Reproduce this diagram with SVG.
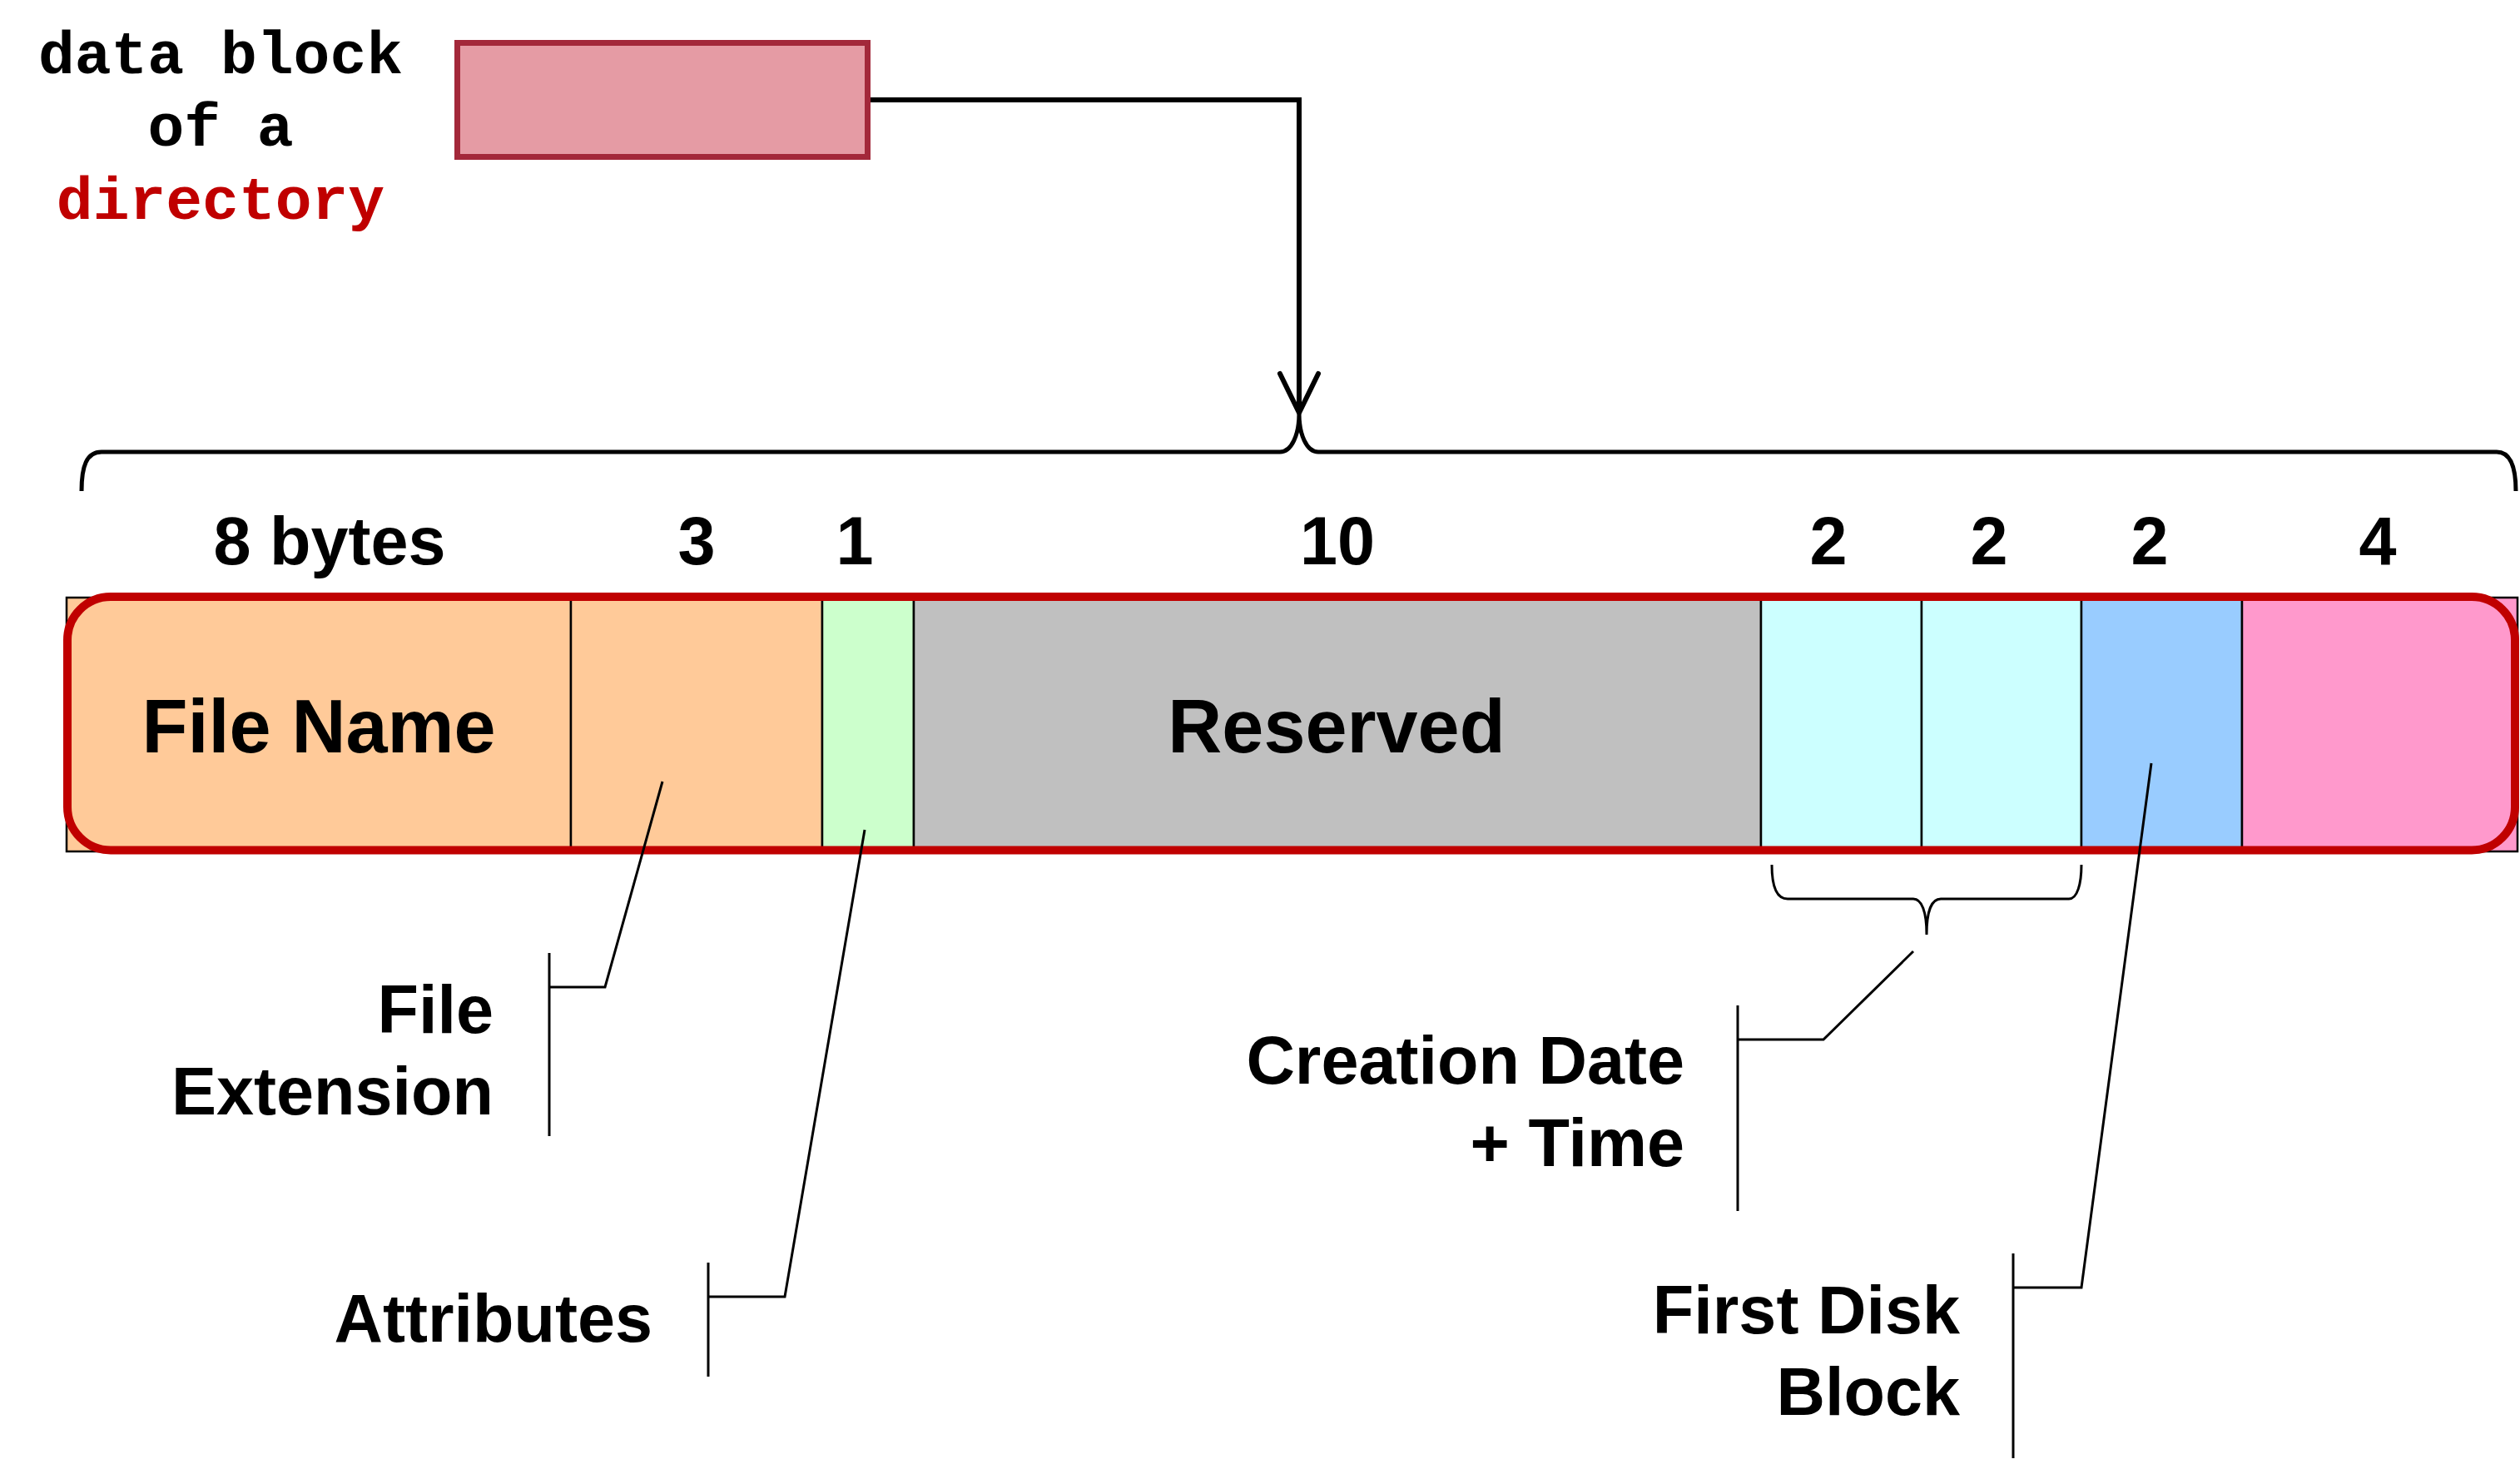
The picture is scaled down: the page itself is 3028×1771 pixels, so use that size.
<svg xmlns="http://www.w3.org/2000/svg" width="3028" height="1771" viewBox="0 0 3028 1771">
<defs>
<style>
.mono{font-family:"Liberation Mono","Courier New",monospace;font-weight:bold;font-size:73px;text-anchor:middle}
.lbl{font-family:"Liberation Sans",Arial,sans-serif;font-weight:bold;font-size:81px;fill:#000}
.big{font-family:"Liberation Sans",Arial,sans-serif;font-weight:bold;font-size:90px;fill:#000;text-anchor:middle}
.num{text-anchor:middle}
.end{text-anchor:end}
.cell{stroke:#000;stroke-width:2.5}
.thin{fill:none;stroke:#000;stroke-width:3;stroke-linejoin:miter}
.brace{fill:none;stroke:#000;stroke-width:5}
.conn{fill:none;stroke:#000;stroke-width:6}
</style>
<marker id="vhead" markerUnits="userSpaceOnUse" viewBox="-56 -30 64 60" markerWidth="64" markerHeight="60" refX="0" refY="0" orient="auto">
<path d="M -47 -23 L 0 0 L -47 23" fill="none" stroke="#000" stroke-width="6" stroke-linecap="round" stroke-linejoin="round"/>
</marker>
</defs>
<rect width="3028" height="1771" fill="#fff"/>

<g id="caption">
<text class="mono" x="265" y="88" fill="#000">data block</text>
<text class="mono" x="265" y="175" fill="#000">of a</text>
<text class="mono" x="265" y="263" fill="#C00000">directory</text>
</g>

<g id="datablock">
<rect x="549.5" y="51.5" width="493" height="137" fill="#E59BA4" stroke="#A3283A" stroke-width="7"/>
</g>

<g id="entry">
<rect id="f-name" class="cell" x="80" y="718" width="606" height="305" fill="#FFCA99"/>
<rect id="f-ext" class="cell" x="686" y="718" width="302" height="305" fill="#FFCA99"/>
<rect id="f-attr" class="cell" x="988" y="718" width="110" height="305" fill="#CCFFCC"/>
<rect id="f-res" class="cell" x="1098" y="718" width="1018" height="305" fill="#C0C0C0"/>
<rect id="f-date" class="cell" x="2116" y="718" width="193" height="305" fill="#CCFFFF"/>
<rect id="f-time" class="cell" x="2309" y="718" width="192" height="305" fill="#CCFFFF"/>
<rect id="f-block" class="cell" x="2501" y="718" width="193" height="305" fill="#99CCFF"/>
<rect id="f-size" class="cell" x="2694" y="718" width="331" height="305" fill="#FF99CC"/>
<rect x="81" y="717" width="2941" height="304.5" rx="52" ry="52" fill="none" stroke="#C00000" stroke-width="10"/>
<text class="big" x="383" y="904">File Name</text>
<text class="big" x="1606" y="904">Reserved</text>
</g>

<g id="sizes" class="lbl">
<text class="num" x="396" y="678">8 bytes</text>
<text class="num" x="837" y="678">3</text>
<text class="num" x="1027" y="678">1</text>
<text class="num" x="1607" y="678">10</text>
<text class="num" x="2197" y="678">2</text>
<text class="num" x="2390" y="678">2</text>
<text class="num" x="2583" y="678">2</text>
<text class="num" x="2857" y="678">4</text>
</g>

<g id="label-ext" class="lbl">
<text class="end" x="593" y="1241">File</text>
<text class="end" x="593" y="1339">Extension</text>
</g>
<g id="label-attr" class="lbl">
<text class="end" x="784" y="1612">Attributes</text>
</g>
<g id="label-date" class="lbl">
<text class="end" x="2024" y="1302">Creation Date</text>
<text class="end" x="2024" y="1401">+ Time</text>
</g>
<g id="label-block" class="lbl">
<text class="end" x="2355" y="1602">First Disk</text>
<text class="end" x="2355" y="1700">Block</text>
</g>

<g id="connectors">
<path class="conn" d="M 1046 120 L 1561 120 L 1561 496" marker-end="url(#vhead)"/>
<path class="brace" d="M 98 590 C 98 560 104 543 122 543 L 1538 543 C 1552 543 1561 522 1561 497 C 1561 522 1570 543 1584 543 L 3000 543 C 3016 543 3023 560 3023 590"/>
<path class="thin" d="M 2129 1039 C 2129 1062 2134 1080 2148 1080 L 2299 1080 C 2309 1080 2315 1095 2315 1123 C 2315 1095 2321 1080 2332 1080 L 2486 1080 C 2496 1080 2501 1062 2501 1039"/>
<path class="thin" d="M 796 939 L 727 1186 L 660 1186"/>
<path class="thin" d="M 660 1145 L 660 1365"/>
<path class="thin" d="M 1039 997 L 943 1558 L 851 1558"/>
<path class="thin" d="M 851 1517 L 851 1654"/>
<path class="thin" d="M 2299 1143 L 2191 1249 L 2088 1249"/>
<path class="thin" d="M 2088 1208 L 2088 1455"/>
<path class="thin" d="M 2585 917 L 2501 1547 L 2419 1547"/>
<path class="thin" d="M 2419 1506 L 2419 1752"/>
</g>
</svg>
